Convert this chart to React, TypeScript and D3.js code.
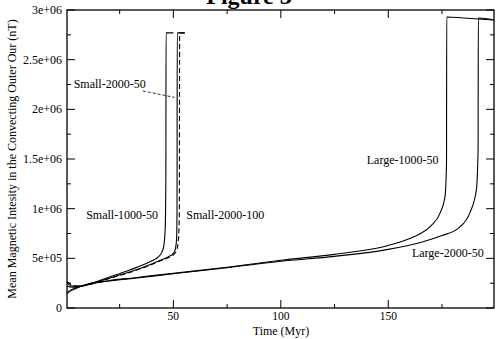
import React from "react";
import * as d3 from "d3";

// series: time (Myr) and mean field (nT)
const small1000_50_t = [0.5, 3, 6, 10, 20, 30, 36, 40, 43, 44.5, 45.5, 46.2, 46.5, 46.6, 50];
const small1000_50_v = [2.5e5, 2.2e5, 2.2e5, 2.38e5, 3.1e5, 3.85e5, 4.35e5, 4.75e5, 5.15e5, 5.55e5, 6.2e5, 8.0e5, 1.3e6, 2.77e6, 2.77e6];

const small2000_100_t = [0.5, 3, 6, 10, 20, 30, 36, 44, 48, 50, 51, 51.5, 51.7, 51.8, 55.4];
const small2000_100_v = [2.2e5, 2.1e5, 2.15e5, 2.33e5, 3.0e5, 3.65e5, 4.1e5, 4.8e5, 5.2e5, 5.5e5, 6.0e5, 7.0e5, 1.0e6, 2.77e6, 2.77e6];

const small2000_50_t = [0.5, 3, 6, 10, 20, 30, 36, 44, 48, 50, 51.5, 52.4, 52.8, 52.9, 55.4];
const small2000_50_v = [2.65e5, 2.3e5, 2.2e5, 2.32e5, 2.95e5, 3.6e5, 4.05e5, 4.75e5, 5.1e5, 5.35e5, 5.8e5, 7.0e5, 1.0e6, 2.77e6, 2.77e6];

const large1000_50_t = [0.5, 3, 6, 10, 20, 32, 50, 75, 100, 125, 150, 160, 165, 170, 174, 176.4, 177.1, 177.2, 177.3, 185, 191.7, 199.2];
const large1000_50_v = [1.6e5, 1.9e5, 2.15e5, 2.4e5, 2.75e5, 3.05e5, 3.5e5, 4.1e5, 4.8e5, 5.4e5, 6.3e5, 7.0e5, 7.5e5, 8.3e5, 9.5e5, 1.12e6, 1.45e6, 2.93e6, 2.93e6, 2.92e6, 2.91e6, 2.9e6];

const large2000_50_t = [0.5, 3, 6, 10, 20, 32, 50, 75, 100, 125, 150, 165, 175, 183, 188, 191, 191.8, 191.9, 192, 199.2];
const large2000_50_v = [1.45e5, 1.8e5, 2.1e5, 2.35e5, 2.72e5, 3.0e5, 3.45e5, 4.05e5, 4.7e5, 5.2e5, 5.9e5, 6.6e5, 7.3e5, 8.1e5, 9.6e5, 1.19e6, 1.6e6, 2.92e6, 2.92e6, 2.9e6];

const xMajor = [50, 100, 150];
const xMinor = [25, 75, 125, 175];
const yMajor = [0, 5e5, 1e6, 1.5e6, 2e6, 2.5e6, 3e6];
const yMajorLabels = ["0", "5e+05", "1e+06", "1.5e+06", "2e+06", "2.5e+06", "3e+06"];
const yMinor = [2.5e5, 7.5e5, 1.25e6, 1.75e6, 2.25e6, 2.75e6];

// text labels placed in data units
const labels = [
  { text: "Small-1000-50", t: 9.4, v: 8.96e5 },
  { text: "Small-2000-100", t: 56, v: 8.96e5 },
  { text: "Small-2000-50", t: 3.6, v: 2.215e6 },
  { text: "Large-1000-50", t: 140, v: 1.45e6 },
  { text: "Large-2000-50", t: 161, v: 5.13e5 },
];
const leader = { t: [35.8, 50.6], v: [2.185e6, 2.12e6] };

const W = 497;
const H = 339;
const font = "'Liberation Serif', 'Times New Roman', serif";

export default function App() {
  const x = d3.scaleLinear().domain([0.5, 199.2]).range([67, 494]);
  const y = d3.scaleLinear().domain([0, 3e6]).range([308, 10]);

  const line = d3
    .line<[number, number]>()
    .x((d) => x(d[0]))
    .y((d) => y(d[1]))
    .curve(d3.curveMonotoneX);

  const series = [
    { t: small1000_50_t, v: small1000_50_v, dash: "" },
    { t: small2000_100_t, v: small2000_100_v, dash: "" },
    { t: small2000_50_t, v: small2000_50_v, dash: "5,3" },
    { t: large1000_50_t, v: large1000_50_v, dash: "" },
    { t: large2000_50_t, v: large2000_50_v, dash: "" },
  ];

  const x0 = x.range()[0];
  const x1 = x.range()[1];
  const y0 = y.range()[0];
  const y1 = y.range()[1];

  return (
    <svg
      width={W}
      height={H}
      style={{ position: "absolute", left: 0, top: 0, background: "#fff" }}
      fontFamily={font}
    >
      <text x={249} y={4} textAnchor="middle" fontSize={24} fontWeight="bold">
        Figure 3
      </text>

      {series.map((s, i) => (
        <path
          key={i}
          d={line(s.t.map((t, j) => [t, s.v[j]]) as [number, number][]) || ""}
          fill="none"
          stroke="#000"
          strokeWidth={1.1}
          strokeDasharray={s.dash}
        />
      ))}

      <line
        x1={x(leader.t[0])}
        y1={y(leader.v[0])}
        x2={x(leader.t[1])}
        y2={y(leader.v[1])}
        stroke="#000"
        strokeWidth={0.8}
        strokeDasharray="3,2"
      />

      {/* frame */}
      <rect x={x0} y={y1} width={x1 - x0} height={y0 - y1} fill="none" stroke="#000" strokeWidth={1.3} />

      {/* x ticks, bottom and top, pointing inward */}
      {xMajor.map((d) => (
        <g key={"xM" + d}>
          <line x1={x(d)} x2={x(d)} y1={y0} y2={y0 - 8} stroke="#000" />
          <line x1={x(d)} x2={x(d)} y1={y1} y2={y1 + 8} stroke="#000" />
          <text x={x(d)} y={320} textAnchor="middle" fontSize={11.5}>
            {d}
          </text>
        </g>
      ))}
      {xMinor.map((d) => (
        <g key={"xm" + d}>
          <line x1={x(d)} x2={x(d)} y1={y0} y2={y0 - 4} stroke="#000" />
          <line x1={x(d)} x2={x(d)} y1={y1} y2={y1 + 4} stroke="#000" />
        </g>
      ))}

      {/* y ticks, left and right */}
      {yMajor.map((d, i) => (
        <g key={"yM" + d}>
          <line x1={x0} x2={x0 + 8} y1={y(d)} y2={y(d)} stroke="#000" />
          <line x1={x1} x2={x1 - 8} y1={y(d)} y2={y(d)} stroke="#000" />
          <text x={62} y={y(d) + 4} textAnchor="end" fontSize={12}>
            {yMajorLabels[i]}
          </text>
        </g>
      ))}
      {yMinor.map((d) => (
        <g key={"ym" + d}>
          <line x1={x0} x2={x0 + 4} y1={y(d)} y2={y(d)} stroke="#000" />
          <line x1={x1} x2={x1 - 4} y1={y(d)} y2={y(d)} stroke="#000" />
        </g>
      ))}

      {labels.map((l) => (
        <text key={l.text} x={x(l.t)} y={y(l.v)} fontSize={12}>
          {l.text}
        </text>
      ))}

      <text x={281} y={335} textAnchor="middle" fontSize={12}>
        Time (Myr)
      </text>
      <text
        transform={`translate(16,${(y0 + y1) / 2}) rotate(-90)`}
        textAnchor="middle"
        fontSize={12}
      >
        Mean Magnetic Intesity in the Convecting Outer Our (nT)
      </text>
    </svg>
  );
}
